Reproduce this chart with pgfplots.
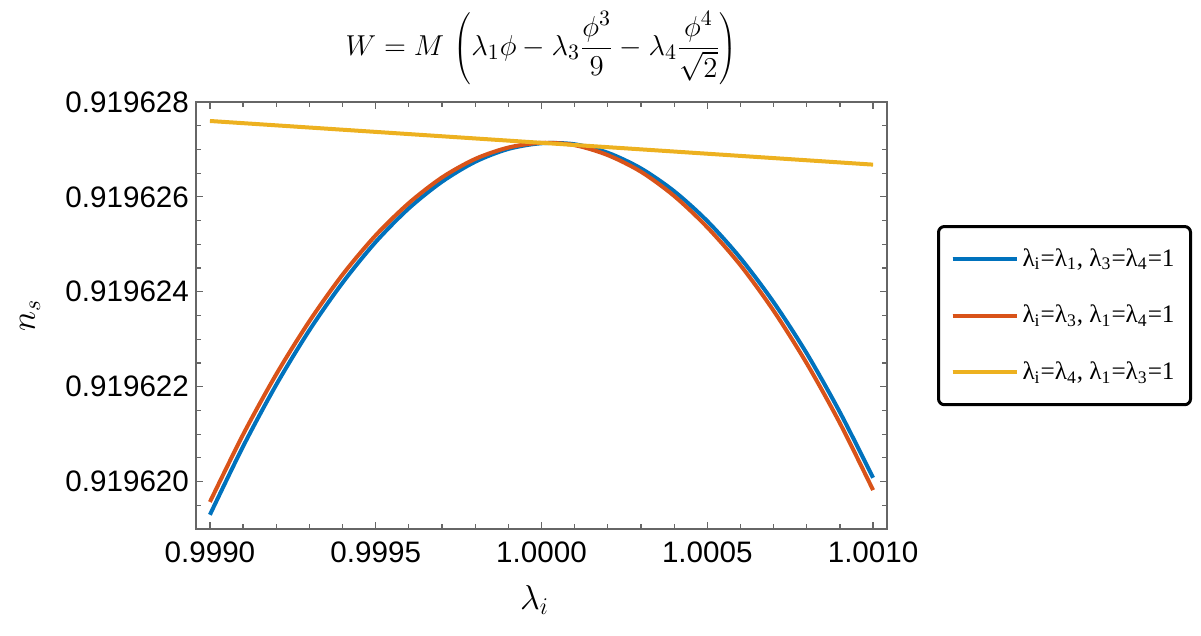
\documentclass[border=0pt]{standalone}
\usepackage{pgfplots}
\pgfplotsset{compat=1.18}
\usepackage{fontspec}
\setmainfont{Liberation Sans}
\newfontfamily\legfont{Liberation Serif}
\definecolor{mblue}{RGB}{0,114,189}
\definecolor{morange}{RGB}{217,83,25}
\definecolor{myellow}{RGB}{237,177,32}

% x = (lambda_i - 1)*1e4 ,  y = (n_s - 0.919620)*1e6
\begin{document}
\begin{tikzpicture}
\begin{axis}[
    scale only axis,
    width=345.5pt, height=213.5pt,
    xmin=-10.42, xmax=10.42,
    ymin=-1, ymax=8,
    xtick={-10,-5,0,5,10},
    xticklabels={0.9990,0.9995,1.0000,1.0005,1.0010},
    ytick={0,2,4,6,8},
    yticklabels={0.919620,0.919622,0.919624,0.919626,0.919628},
    minor xtick={-9,-8,-7,-6,-4,-3,-2,-1,1,2,3,4,6,7,8,9},
    minor ytick={-0.5,0.5,1,1.5,2.5,3,3.5,4.5,5,5.5,6.5,7,7.5},
    tick pos=both, tick align=inside,
    major tick length=3.5pt, minor tick length=2.3pt,
    axis line style={draw=black!60, line width=0.7pt},
    tick style={draw=black!60, line width=0.6pt},
    ticklabel style={font=\fontsize{14.8}{17}\selectfont},
    xticklabel style={yshift=-3pt},
    every axis y label/.style={at={(axis description cs:-0.24,0.5)}, rotate=90, anchor=center},
    every axis x label/.style={at={(axis description cs:0.49,-0.166)}, anchor=center},
    ylabel={\fontsize{18}{20}\selectfont$n_s$},
    xlabel={\fontsize{18}{20}\selectfont$\lambda_i$},
    legend style={at={(axis description cs:1,1)}, anchor=north west,
        xshift=25pt, yshift=-61.5pt,
        draw=black, line width=1.5pt, rounded corners=3pt,
        inner xsep=6pt, inner ysep=9pt, row sep=14pt,
        font=\legfont\fontsize{12.6}{14}\selectfont},
    legend cell align=left,
    legend image code/.code={\draw[#1] (0pt,0pt) -- (25.5pt,0pt); \path (0pt,0pt) -- (32pt,0pt);},
]
\coordinate (sw) at (rel axis cs:0,0);
\coordinate (tc) at (rel axis cs:0.5,1);
\addplot[mblue, line width=2pt, smooth] coordinates {
(-10,-0.70) (-9,0.74) (-8,2.04) (-7,3.19) (-6,4.19) (-5,5.05) (-4,5.76)
(-3,6.32) (-2,6.74) (-1,7.01) (0,7.13) (1,7.11) (2,6.93) (3,6.60)
(4,6.12) (5,5.49) (6,4.71) (7,3.78) (8,2.70) (9,1.46) (10,0.08)
};
\addlegendentry{λ\textsubscript{i}=λ\textsubscript{1}, λ\textsubscript{3}=λ\textsubscript{4}=1\hspace{10pt}}
\addplot[morange, line width=2pt, smooth] coordinates {
(-10,-0.43) (-9,0.99) (-8,2.26) (-7,3.38) (-6,4.36) (-5,5.19) (-4,5.87)
(-3,6.41) (-2,6.80) (-1,7.04) (0,7.14) (1,7.09) (2,6.88) (3,6.53)
(4,6.02) (5,5.36) (6,4.56) (7,3.60) (8,2.49) (9,1.23) (10,-0.18)
};
\addlegendentry{λ\textsubscript{i}=λ\textsubscript{3}, λ\textsubscript{1}=λ\textsubscript{4}=1\hspace{10pt}}
\addplot[myellow, line width=2pt] coordinates {
(-10,7.60) (10,6.68)
};
\addlegendentry{λ\textsubscript{i}=λ\textsubscript{4}, λ\textsubscript{1}=λ\textsubscript{3}=1\hspace{10pt}}
\end{axis}
\node[anchor=center, yshift=27pt] at (tc)
  {\fontsize{15.4}{18}\selectfont$\displaystyle W = M\,\left(\lambda_1\phi-\lambda_3\frac{\phi^3}{9}-\lambda_4\frac{\phi^4}{\sqrt{2}}\right)$};
\pgfresetboundingbox
\path (sw) ++(-98pt,-53.5pt) rectangle ++(600.5pt,318pt);
\end{tikzpicture}
\end{document}
